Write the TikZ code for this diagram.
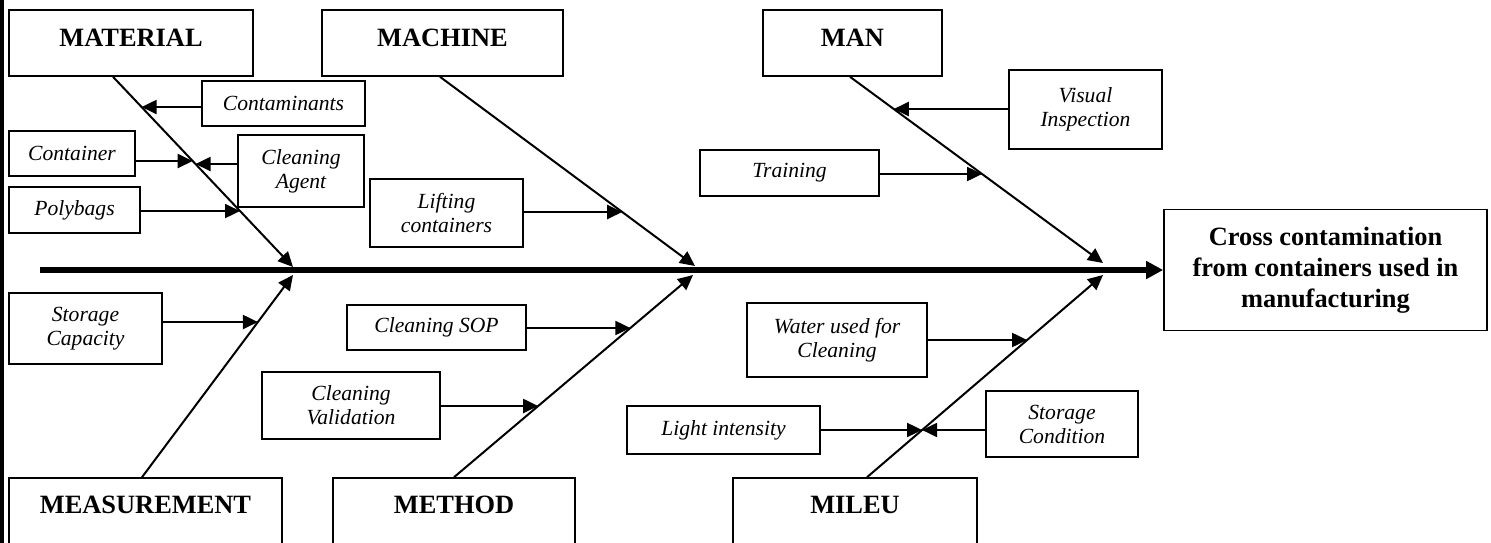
\documentclass[tikz,border=0pt]{standalone}
\usepackage{fontspec}
\setmainfont{Liberation Serif}
\usetikzlibrary{arrows.meta,calc}
\begin{document}
\begin{tikzpicture}[x=0.5pt,y=-0.5pt,
  head/.style={draw,line width=0.8pt,inner sep=0pt,minimum height=33pt,
    font=\fontsize{13.2}{15.5}\selectfont\bfseries,text depth=5pt},
  headlow/.style={head,minimum height=40pt,text depth=13pt},
  effectbox/.style={draw,line width=0.8pt,inner sep=0pt,align=center,
    font=\fontsize{13.2}{15.5}\selectfont\bfseries},
  cause/.style={draw,line width=0.8pt,inner sep=0pt,align=center,
    font=\fontsize{10.8}{12}\selectfont\itshape},
  bone/.style={line width=1pt,-{Triangle[length=7.5pt,width=7pt]}},
  arr/.style={line width=1pt,-{Triangle[length=7.5pt,width=7pt]}},
  spine/.style={line width=3pt,-{Triangle[length=8.5pt,width=8.5pt]}}]
\useasboundingbox (0,0) rectangle (1491,542);
% left border
\draw[line width=1.6pt] (2,-5) -- (2,550);

% heads
\node[head,minimum width=122pt]   (material)    at (131,43)    {MATERIAL};
\node[head,minimum width=120.5pt] (machine)     at (442.5,43)  {MACHINE};
\node[head,minimum width=89.5pt]  (man)         at (852.5,43)  {MAN};
\node[headlow,minimum width=136.5pt] (measurement) at (145.5,518) {MEASUREMENT};
\node[headlow,minimum width=121pt]   (method)      at (454,518)   {METHOD};
\node[headlow,minimum width=122pt]   (mileu)       at (855,518)   {MILEU};

% effect
\node[effectbox,minimum width=161.5pt,minimum height=60.5pt] (effect) at (1325.5,270)
  {Cross contamination\\from containers used in\\manufacturing};

% causes
\node[cause,minimum width=81.5pt,minimum height=22.5pt] (contam)   at (283.5,103.5) {Contaminants};
\node[cause,minimum width=63pt,minimum height=22.5pt]   (container) at (72,153.5)   {Container};
\node[cause,minimum width=63pt,minimum height=36pt]     (agent)    at (301,171)     {Cleaning\\Agent};
\node[cause,minimum width=65.5pt,minimum height=23pt]   (polybags) at (74.5,210)    {Polybags};
\node[cause,minimum width=76.5pt,minimum height=34pt]   (lifting)  at (446.5,213)   {Lifting\\containers};
\node[cause,minimum width=89.5pt,minimum height=22.5pt] (sop)      at (436.5,327.5) {Cleaning SOP};
\node[cause,minimum width=89pt,minimum height=33.5pt]   (valid)    at (351,405.5)   {Cleaning\\Validation};
\node[cause,minimum width=76.5pt,minimum height=35.5pt] (storcap)  at (85.5,328.5)  {Storage\\Capacity};
\node[cause,minimum width=89.5pt,minimum height=23pt]   (training) at (789.5,173)   {Training};
\node[cause,minimum width=76.5pt,minimum height=39.5pt] (visual)   at (1085.5,109.5) {Visual\\Inspection};
\node[cause,minimum width=90pt,minimum height=37pt]     (water)    at (837,340)     {Water used for\\Cleaning};
\node[cause,minimum width=96.5pt,minimum height=24pt]   (light)    at (723.5,430)   {Light intensity};
\node[cause,minimum width=76pt,minimum height=33pt]     (storcond) at (1062,424)    {Storage\\Condition};

% bone coordinates
\coordinate (matS)  at ([xshift=-9pt]material.south);
\coordinate (matT)  at (293,267);
\coordinate (machS) at ([xshift=-1.25pt]machine.south);
\coordinate (machT) at (695,266);
\coordinate (manS)  at ([xshift=-1.25pt]man.south);
\coordinate (manT)  at (1103,263);
\coordinate (measS) at ([xshift=-1.75pt]measurement.north);
\coordinate (measT) at (293,275);
\coordinate (methS) at (method.north);
\coordinate (methT) at (693,275);
\coordinate (milS)  at ([xshift=6pt]mileu.north);
\coordinate (milT)  at (1103,275);
\coordinate (spS)   at (40,270);

% spine and bones
\draw[spine] (spS) -- (effect.west);
\draw[bone] (matS) -- (matT);
\draw[bone] (machS) -- (machT);
\draw[bone] (manS) -- (manT);
\draw[bone] (measS) -- (measT);
\draw[bone] (methS) -- (methT);
\draw[bone] (milS) -- (milT);

% tips on bones
\coordinate (tContam) at (intersection cs:first line={(matS)--(matT)},second line={(0,107)--(10,107)});
\coordinate (tCont)   at (intersection cs:first line={(matS)--(matT)},second line={(0,161)--(10,161)});
\coordinate (tAgent)  at (intersection cs:first line={(matS)--(matT)},second line={(0,164)--(10,164)});
\coordinate (tPoly)   at (intersection cs:first line={(matS)--(matT)},second line={(0,211)--(10,211)});
\coordinate (tLift)   at (intersection cs:first line={(machS)--(machT)},second line={(0,212)--(10,212)});
\coordinate (tSop)    at (intersection cs:first line={(methS)--(methT)},second line={(0,328)--(10,328)});
\coordinate (tValid)  at (intersection cs:first line={(methS)--(methT)},second line={(0,406)--(10,406)});
\coordinate (tStorCap) at (intersection cs:first line={(measS)--(measT)},second line={(0,322)--(10,322)});
\coordinate (tTrain)  at (intersection cs:first line={(manS)--(manT)},second line={(0,174)--(10,174)});
\coordinate (tVisual) at (intersection cs:first line={(manS)--(manT)},second line={(0,109)--(10,109)});
\coordinate (tWater)  at (intersection cs:first line={(milS)--(milT)},second line={(0,340)--(10,340)});
\coordinate (tLight)  at (intersection cs:first line={(milS)--(milT)},second line={(0,430)--(10,430)});

% cause arrows
\draw[arr] (contam.west |- tContam) -- (tContam);
\draw[arr] (container.east |- tCont) -- (tCont);
\draw[arr] (agent.west |- tAgent) -- (tAgent);
\draw[arr] (polybags.east |- tPoly) -- (tPoly);
\draw[arr] (lifting.east |- tLift) -- (tLift);
\draw[arr] (sop.east |- tSop) -- (tSop);
\draw[arr] (valid.east |- tValid) -- (tValid);
\draw[arr] (storcap.east |- tStorCap) -- (tStorCap);
\draw[arr] (training.east |- tTrain) -- (tTrain);
\draw[arr] (visual.west |- tVisual) -- (tVisual);
\draw[arr] (water.east |- tWater) -- (tWater);
\draw[arr] (light.east |- tLight) -- (tLight);
\draw[arr] (storcond.west |- tLight) -- (tLight);
\end{tikzpicture}
\end{document}
